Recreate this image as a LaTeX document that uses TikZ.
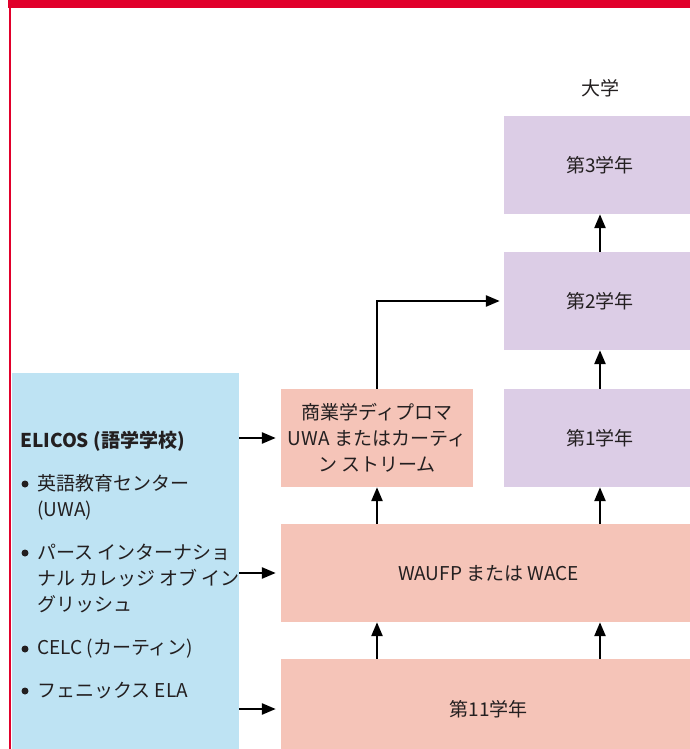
\documentclass[tikz,border=0pt]{standalone}
\usepackage{fontspec}
\setmainfont{Noto Sans CJK JP}
\usetikzlibrary{arrows.meta}
\definecolor{redbar}{HTML}{E1002B}
\definecolor{bluebox}{HTML}{BEE3F3}
\definecolor{purplebox}{HTML}{DCCDE6}
\definecolor{salmonbox}{HTML}{F5C4B8}
\definecolor{txt}{HTML}{231F20}
\tikzset{
  box/.style={rectangle, inner sep=0pt, text=txt, font=\fontsize{19}{26}\selectfont, align=center},
  uni/.style={box, fill=purplebox, minimum width=192, minimum height=98},
  sal/.style={box, fill=salmonbox, minimum height=98},
  lbl/.style={inner sep=0pt, text=txt, font=\fontsize{19}{26}\selectfont, align=left, anchor=west},
  dot/.style={circle, fill=txt, inner sep=0pt, minimum size=7},
  arr/.style={line width=2.5pt, -{Triangle[length=14pt,width=11pt]}},
}
\begin{document}
\begin{tikzpicture}[x=1pt,y=-1pt]
\useasboundingbox (0,0) rectangle (690,749);
% frame
\fill[redbar] (8,0) rectangle (696,8.5);
\fill[redbar] (8.5,0) rectangle (11,760);
% blue box
\node[rectangle, fill=bluebox, inner sep=0pt, minimum width=227, minimum height=387] (blue) at (125.5,566.5) {};
% university
\node[box] (uni) at (600,88) {大学};
\node[uni] (y3) at (600,165) {第3学年};
\node[uni] (y2) at (600,301) {第2学年};
\node[uni] (y1) at (600,438) {第1学年};
% salmon
\node[sal, minimum width=192] (dip) at (377,438) {商業学ディプロマ\\UWA またはカーティ\\ン ストリーム};
\node[sal, minimum width=415] (wa) at (488.5,573) {WAUFP または WACE};
\node[sal, minimum width=415, minimum height=100] (y11) at (488.5,709) {第11学年};
% blue text
\node[lbl, font=\fontsize{19}{26}\selectfont\bfseries] (elicos) at (20,441) {ELICOS (語学学校)};
\node[dot] (d1) at (25,484) {};
\node[lbl] (t1) at (37,497.5) {英語教育センター\\(UWA)};
\node[dot] (d2) at (25,553) {};
\node[lbl] (t2) at (37,578) {パース インターナショ\\ナル カレッジ オブ イン\\グリッシュ};
\node[dot] (d3) at (25,649) {};
\node[lbl] (t3) at (37,649) {CELC (カーティン)};
\node[dot] (d4) at (25,691) {};
\node[lbl] (t4) at (37,691) {フェニックス ELA};
% arrows up
\draw[arr] (dip.south |- y11.north) -- (dip.south |- wa.south);
\draw[arr] (y1.south |- y11.north) -- (y1.south |- wa.south);
\draw[arr] (dip.south |- wa.north) -- (dip.south);
\draw[arr] (y1.south |- wa.north) -- (y1.south);
\draw[arr] (y1.north) -- (y2.south);
\draw[arr] (y2.north) -- (y3.south);
\draw[arr, shorten >=4pt] (dip.north) |- (y2.west);
% arrows right
\draw[arr, shorten >=5pt] (dip.west -| blue.east) -- (dip.west);
\draw[arr, shorten >=5pt] (wa.west -| blue.east) -- (wa.west);
\draw[arr, shorten >=5pt] (y11.west -| blue.east) -- (y11.west);
\end{tikzpicture}
\end{document}
